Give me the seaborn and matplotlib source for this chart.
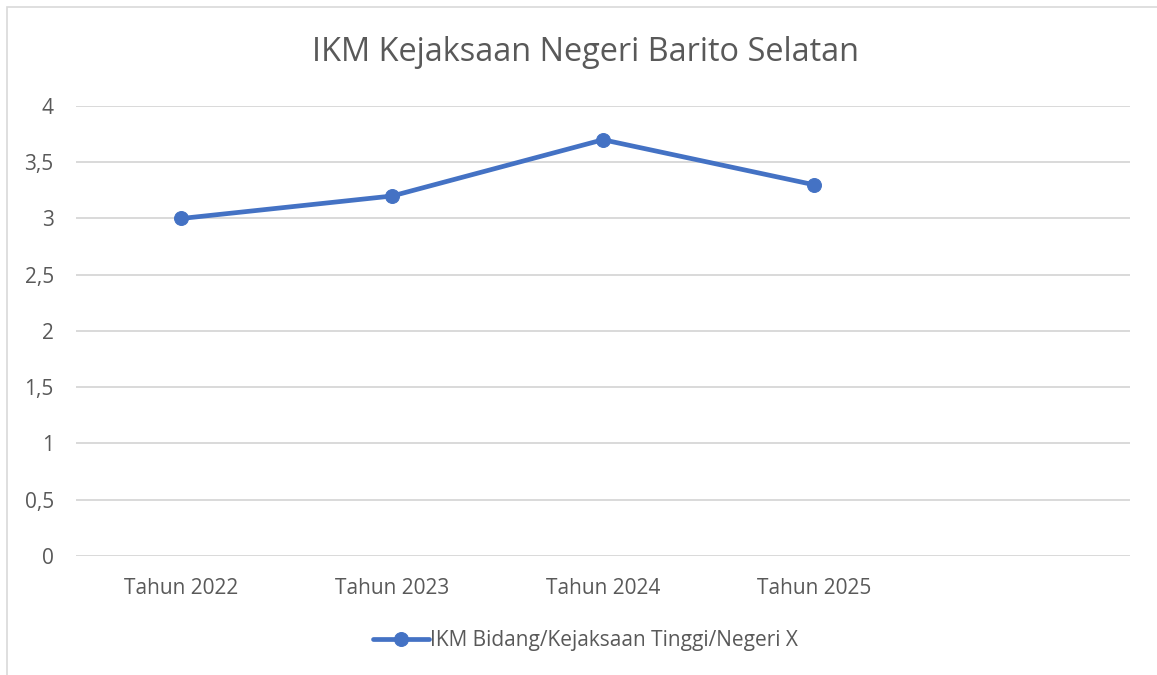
import matplotlib
matplotlib.use("Agg")
import matplotlib.pyplot as plt
import seaborn as sns
import pandas as pd
from matplotlib.patches import Rectangle

categories = ["Tahun 2022", "Tahun 2023", "Tahun 2024", "Tahun 2025", ""]
values = [3.0, 3.2, 3.7, 3.3]
series_name = "IKM Bidang/Kejaksaan Tinggi/Negeri X"
title = "IKM Kejaksaan Negeri Barito Selatan"

sns.set_theme(style="white")
plt.rcParams["font.family"] = ["Open Sans", "DejaVu Sans"]

df = pd.DataFrame({"pos": range(len(values)), "value": values})

fig = plt.figure(figsize=(11.57, 6.75), dpi=100)
ax = fig.add_axes([0.0657, 0.1763, 0.911, 0.6667])

# outer chart border (left/top visible)
fig.patches.append(Rectangle((7 / 1157, -0.1), 1.2, 1.1 - 7 / 675, transform=fig.transFigure,
                             fill=False, edgecolor="#D9D9D9", linewidth=1.2))

sns.lineplot(data=df, x="pos", y="value", ax=ax, color="#4472C4", linewidth=3.4,
             marker="o", markersize=10, markeredgecolor="#4472C4", label=series_name,
             legend=False)

ax.set_xlim(-0.5, len(categories) - 0.5)
ax.set_ylim(0, 4)
ax.set_yticks([0, 0.5, 1, 1.5, 2, 2.5, 3, 3.5, 4])
ax.set_yticklabels(["0", "0,5", "1", "1,5", "2", "2,5", "3", "3,5", "4"])
ax.set_xticks(range(len(categories)))
ax.set_xticklabels(categories)
ax.set_xlabel("")
ax.set_ylabel("")
ax.grid(axis="y", color="#D9D9D9", linewidth=1.4)
ax.set_axisbelow(True)
for s in ax.spines.values():
    s.set_visible(False)
ax.tick_params(axis="both", length=0, labelsize=15, labelcolor="#595959")
ax.tick_params(axis="x", pad=16)
ax.tick_params(axis="y", pad=16)

fig.text(0.506, 0.922, title, ha="center", va="center", fontsize=23.4, color="#595959")

handles, labels = ax.get_legend_handles_labels()
fig.legend(handles, labels, loc="center", bbox_to_anchor=(0.506, 0.051), frameon=False,
           fontsize=15, labelcolor="#595959", handlelength=2.7, handletextpad=0.05)

fig.savefig("out.png", dpi=100, facecolor="white")
